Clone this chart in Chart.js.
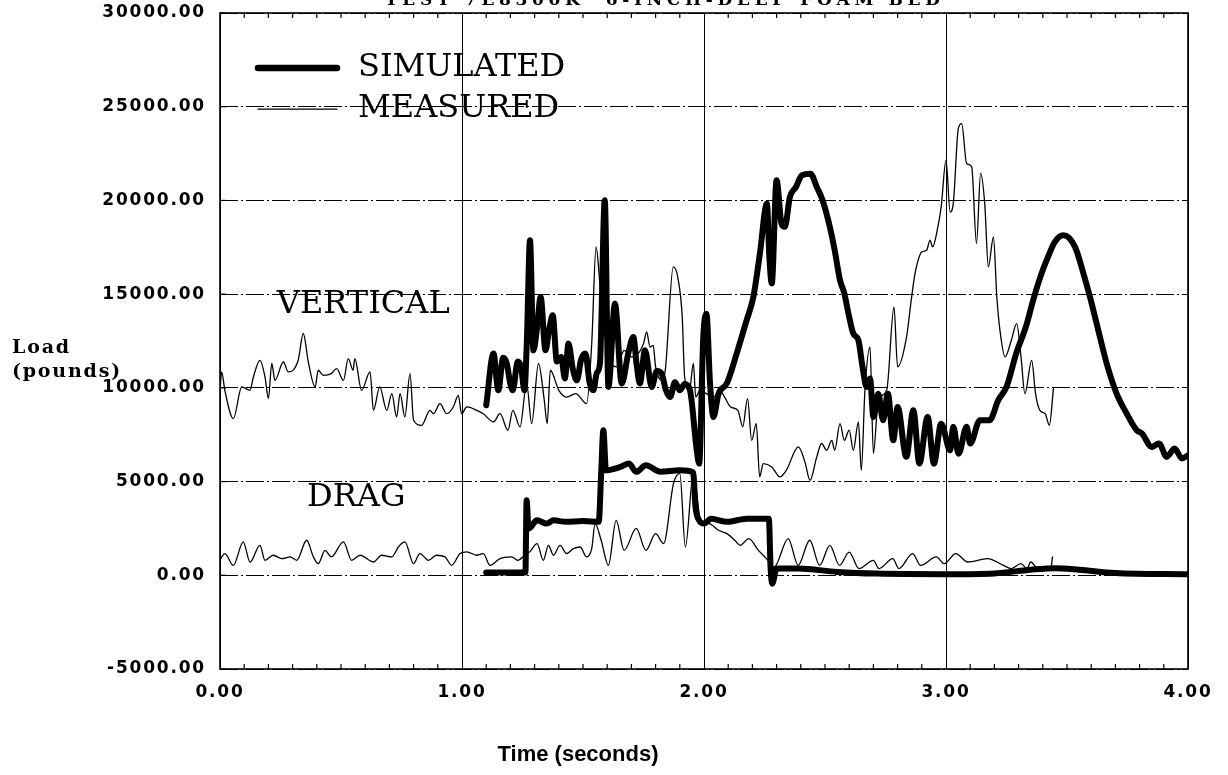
<!DOCTYPE html>
<html>
<head>
<meta charset="utf-8">
<script src="https://cdn.jsdelivr.net/npm/chart.js@4.4.1/dist/chart.umd.min.js"></script>
<style>
  html, body { margin: 0; padding: 0; background: #fff; }
  canvas { display: block; }
</style>
</head>
<body>
<canvas id="c" width="1228" height="775"></canvas>
<script>
// ---- Load histories (time in seconds, load in pounds) ----
const measVertTime = [0.000,0.007,0.020,0.055,0.090,0.124,0.138,0.165,0.186,0.200,0.214,0.227,0.262,0.282,0.323,0.344,0.365,0.393,0.406,0.427,0.460,0.482,0.510,0.530,0.550,0.557,0.585,0.620,0.634,0.660,0.689,0.710,0.730,0.744,0.764,0.785,0.800,0.833,0.868,0.882,0.909,0.937,0.964,0.985,0.998,1.020,1.061,1.088,1.130,1.157,1.190,1.210,1.240,1.267,1.288,1.316,1.340,1.352,1.365,1.400,1.432,1.470,1.515,1.536,1.554,1.570,1.600,1.640,1.670,1.700,1.728,1.750,1.763,1.777,1.790,1.800,1.825,1.840,1.873,1.894,1.910,1.920,1.940,1.956,1.966,1.983,2.010,2.040,2.066,2.085,2.110,2.140,2.160,2.180,2.197,2.216,2.230,2.245,2.280,2.314,2.340,2.390,2.417,2.438,2.466,2.486,2.507,2.528,2.540,2.562,2.580,2.600,2.617,2.638,2.650,2.665,2.686,2.700,2.720,2.755,2.785,2.800,2.837,2.858,2.872,2.900,2.920,2.934,2.945,2.961,2.980,3.000,3.017,3.030,3.051,3.065,3.085,3.106,3.126,3.143,3.160,3.175,3.196,3.210,3.223,3.244,3.270,3.292,3.310,3.326,3.354,3.370,3.388,3.410,3.427,3.444];
const measVertLoad = [9900,10850,9870,8360,10050,9870,10580,11470,10580,9430,11300,10400,11380,10850,11470,12900,11380,10050,10940,10670,10760,11030,10400,11560,10940,11560,9870,10850,8800,10050,8800,9690,8450,9690,8450,10760,8270,8000,8800,8620,9160,8620,8980,9600,8620,8980,8800,8620,8180,8620,7740,8800,7920,10230,8090,11300,9340,8090,10940,9870,9510,9690,9160,12360,17520,15570,12000,11120,12000,11650,11830,12360,12980,12180,12270,11120,10400,10940,16450,15740,13790,10580,9870,11300,9510,9870,9690,9510,9870,9510,8980,8800,7920,9430,7200,8090,5250,5960,5780,5250,5600,6850,6050,5070,6320,7030,6670,7200,6670,8090,7200,7740,6670,8180,5600,9870,12180,6490,9340,9870,14320,11120,12720,14850,16100,17250,17340,17880,17520,18230,19650,22150,19380,19830,23840,24100,21970,21800,17700,21440,19830,16450,18050,14850,13070,11650,12540,13430,11650,9690,11470,9690,8800,8620,8000,9960];

const measDragTime = [0.000,0.007,0.020,0.055,0.096,0.124,0.165,0.186,0.220,0.255,0.290,0.317,0.358,0.386,0.406,0.434,0.460,0.510,0.544,0.579,0.634,0.668,0.710,0.737,0.764,0.800,0.826,0.861,0.895,0.930,0.957,0.992,1.020,1.060,1.088,1.116,1.157,1.205,1.230,1.260,1.280,1.310,1.336,1.357,1.378,1.405,1.432,1.460,1.488,1.515,1.536,1.550,1.575,1.605,1.637,1.670,1.720,1.760,1.800,1.833,1.874,1.900,1.923,1.956,1.989,2.020,2.060,2.095,2.127,2.150,2.185,2.225,2.258,2.290,2.348,2.389,2.437,2.478,2.520,2.560,2.600,2.640,2.700,2.723,2.780,2.805,2.862,2.895,2.960,2.993,3.040,3.090,3.172,3.237,3.270,3.310,3.335,3.350,3.385,3.433,3.440];
const measDragLoad = [800,980,1160,530,1780,710,1600,800,1070,890,980,800,1870,980,620,1330,980,1780,800,1070,710,1070,980,1510,1780,620,1160,800,1070,980,530,1160,1250,1070,1160,530,890,980,800,1070,1250,1690,800,1600,1070,1600,1160,1420,1510,980,1420,2760,1870,530,2930,1330,2500,1330,2220,1690,4900,5440,1510,5440,2760,2760,2400,2220,1870,1600,1960,1330,890,440,1960,530,1870,530,1600,530,1240,360,800,360,890,360,1160,530,980,620,1160,710,890,530,360,620,360,710,270,360,980];

const simVertTime = [1.100,1.130,1.150,1.170,1.185,1.200,1.210,1.230,1.244,1.258,1.268,1.281,1.295,1.310,1.325,1.345,1.360,1.375,1.392,1.410,1.425,1.440,1.458,1.475,1.492,1.510,1.527,1.543,1.557,1.570,1.590,1.605,1.632,1.660,1.687,1.708,1.722,1.735,1.756,1.784,1.805,1.825,1.842,1.860,1.880,1.900,1.920,1.942,1.970,1.980,1.997,2.010,2.025,2.039,2.060,2.094,2.135,2.176,2.204,2.231,2.260,2.270,2.280,2.300,2.320,2.334,2.355,2.380,2.404,2.440,2.466,2.490,2.520,2.540,2.562,2.580,2.597,2.617,2.638,2.655,2.672,2.686,2.700,2.720,2.740,2.760,2.782,2.800,2.836,2.865,2.890,2.924,2.950,2.980,3.017,3.030,3.052,3.085,3.100,3.140,3.180,3.216,3.250,3.290,3.330,3.360,3.390,3.416,3.450,3.485,3.533,3.568,3.595,3.636,3.664,3.705,3.747,3.788,3.810,3.850,3.880,3.912,3.945,3.975,4.000];
const simVertLoad = [9070,11830,9870,11600,11300,10200,9870,11400,11120,9870,12500,17880,12000,13200,14850,12000,13100,13870,11400,11650,10500,12360,11000,10400,11500,11830,10300,9870,10800,11300,20010,10050,14500,10230,11830,12720,11200,10230,12000,10050,10900,10760,9900,9510,10300,9870,10200,9870,6670,5960,12720,13960,10230,8450,9690,10230,11830,13600,14850,17170,19830,17000,15570,21080,18770,18590,20190,20720,21340,21430,20720,20010,18590,17340,15740,15030,13960,12900,12540,11120,10050,10500,8450,9690,8270,9690,7200,8980,6320,8800,5960,8450,5960,8090,6670,7920,6490,7920,7030,8270,8270,9340,10050,11830,13250,14670,15920,16810,17790,18140,17520,16100,14850,12720,11300,9690,8620,7740,7560,6850,7030,6320,6760,6230,6400];

const simDragTime = [1.100,1.200,1.262,1.267,1.275,1.310,1.350,1.378,1.430,1.500,1.565,1.575,1.584,1.595,1.655,1.690,1.720,1.760,1.820,1.900,1.955,1.965,1.980,2.000,2.030,2.095,2.176,2.268,2.275,2.282,2.300,2.389,2.550,2.715,3.000,3.200,3.350,3.450,3.550,3.700,4.000];
const simDragLoad = [150,150,150,4000,2490,2930,2760,2930,2850,2900,2850,5400,7740,5600,5780,5960,5520,5870,5520,5600,5500,3640,2930,2760,3020,2850,3020,3020,440,-450,360,360,180,90,60,100,300,380,300,120,50];

// ---- Axes and labels ----
const xTickValues = [0, 1, 2, 3, 4];
const yTickValues = [-5000, 0, 5000, 10000, 15000, 20000, 25000, 30000];
const legendLabels = ['SIMULATED', 'MEASURED'];
const curveLabels = ['VERTICAL', 'DRAG'];
const chartTitle = 'TEST 7E8300K  6-INCH-DEEP FOAM BED';
const xAxisTitle = 'Time (seconds)';
const yAxisTitle = ['Load', '(pounds)'];

const toPoints = (t, v) => t.map((x, i) => ({ x: x, y: v[i] }));

const INK = '#000';
const THICK = 6;
const THIN = 1.3;

// Tick labels are drawn letter-spaced; annotations reset spacing themselves.
const spacingPlugin = {
  id: 'spacing',
  beforeDraw(chart) { chart.ctx.letterSpacing = '1.8px'; },
  beforeDatasetsDraw(chart) { chart.ctx.letterSpacing = '0px'; }
};

function fitText(ctx, text, x, y, width) {
  ctx.letterSpacing = '0px';
  const w = ctx.measureText(text).width;
  const sp = Math.max(0, (width - w) / (text.length - 1));
  ctx.letterSpacing = sp + 'px';
  ctx.fillText(text, x, y);
  ctx.letterSpacing = '0px';
}

const annotationPlugin = {
  id: 'annotations',
  afterDraw(chart) {
    const ctx = chart.ctx;
    const a = chart.chartArea;
    const xs = chart.scales.x, ys = chart.scales.y;
    ctx.save();
    ctx.letterSpacing = '0px';
    ctx.strokeStyle = INK;
    ctx.fillStyle = INK;

    // plot frame
    ctx.lineWidth = 1.6;
    ctx.strokeRect(a.left, a.top, a.right - a.left, a.bottom - a.top);

    // minor ticks along top and bottom edges every 0.1 s
    ctx.lineWidth = 1.2;
    for (let k = 1; k < 40; k++) {
      if (k % 10 === 0) continue;
      const px = xs.getPixelForValue(k / 10);
      ctx.beginPath();
      ctx.moveTo(px, a.top); ctx.lineTo(px, a.top + 5);
      ctx.moveTo(px, a.bottom); ctx.lineTo(px, a.bottom - 5);
      ctx.stroke();
    }
    // small ticks on the left edge at each major value
    yTickValues.forEach(v => {
      const py = ys.getPixelForValue(v);
      ctx.beginPath();
      ctx.moveTo(a.left, py); ctx.lineTo(a.left + 6, py);
      ctx.stroke();
    });

    // legend
    const lx0 = a.left + 38, lx1 = a.left + 117;
    const ly0 = ys.getPixelForValue(27060), ly1 = ys.getPixelForValue(24870);
    ctx.lineCap = 'round';
    ctx.lineWidth = THICK + 0.5;
    ctx.beginPath(); ctx.moveTo(lx0, ly0); ctx.lineTo(lx1, ly0); ctx.stroke();
    ctx.lineWidth = THIN;
    ctx.beginPath(); ctx.moveTo(lx0, ly1); ctx.lineTo(lx1, ly1); ctx.stroke();
    ctx.font = '32px "DejaVu Serif"';
    ctx.textBaseline = 'middle';
    ctx.textAlign = 'left';
    ctx.fillText(legendLabels[0], a.left + 138, ly0);
    ctx.fillText(legendLabels[1], a.left + 138, ly1);

    // curve labels
    ctx.fillText(curveLabels[0], xs.getPixelForValue(0.235), ys.getPixelForValue(14450));
    ctx.fillText(curveLabels[1], xs.getPixelForValue(0.36), ys.getPixelForValue(4150));

    // y axis title
    ctx.font = 'bold 19px "DejaVu Serif"';
    ctx.letterSpacing = '1.8px';
    ctx.fillText(yAxisTitle[0], 12, 348);
    ctx.fillText(yAxisTitle[1], 12, 372);
    ctx.letterSpacing = '0px';

    // x axis title
    ctx.font = 'bold 22px "Liberation Sans Narrow", "Liberation Sans"';
    ctx.textAlign = 'center';
    ctx.fillText(xAxisTitle, 578, 755);

    // heading along the top edge
    ctx.font = 'bold 17px "DejaVu Serif"';
    ctx.textAlign = 'left';
    ctx.textBaseline = 'alphabetic';
    fitText(ctx, chartTitle, 385, 5, 555);

    ctx.restore();
  }
};

const tickFont = { family: '"DejaVu Sans", sans-serif', size: 17, weight: 'bold' };

// fixed axis boxes so the plot area sits exactly where wanted
const fixX = s => { s.height = 106; s.paddingLeft = 0; s.paddingRight = 0; s.paddingTop = 0; s.paddingBottom = 0; };
const fixY = s => { s.width = 220; s.paddingTop = 0; s.paddingBottom = 0; s.paddingLeft = 0; s.paddingRight = 0; };

new Chart(document.getElementById('c'), {
  type: 'line',
  data: {
    datasets: [
      { label: 'MEASURED VERTICAL', data: toPoints(measVertTime, measVertLoad), borderColor: INK, borderWidth: THIN },
      { label: 'MEASURED DRAG', data: toPoints(measDragTime, measDragLoad), borderColor: INK, borderWidth: THIN },
      { label: 'SIMULATED VERTICAL', data: toPoints(simVertTime, simVertLoad), borderColor: INK, borderWidth: THICK },
      { label: 'SIMULATED DRAG', data: toPoints(simDragTime, simDragLoad), borderColor: INK, borderWidth: THICK }
    ]
  },
  options: {
    responsive: false,
    animation: false,
    devicePixelRatio: 1,
    layout: { autoPadding: false, padding: { top: 13, right: 40, left: 0, bottom: 0 } },
    elements: {
      point: { radius: 0 },
      line: { cubicInterpolationMode: 'monotone', borderJoinStyle: 'round', borderCapStyle: 'round', fill: false }
    },
    plugins: { legend: { display: false }, tooltip: { enabled: false }, title: { display: false } },
    scales: {
      x: {
        type: 'linear',
        min: 0, max: 4,
        afterBuildTicks: s => { s.ticks = xTickValues.map(v => ({ value: v })); },
        afterFit: fixX,
        ticks: { color: INK, font: tickFont, padding: 13, callback: v => v.toFixed(2), maxRotation: 0 },
        grid: { color: INK, lineWidth: 1, drawTicks: false },
        border: { display: false }
      },
      y: {
        type: 'linear',
        min: -5000, max: 30000,
        afterBuildTicks: s => { s.ticks = yTickValues.map(v => ({ value: v })); },
        afterFit: fixY,
        ticks: { color: INK, font: tickFont, padding: 14, callback: v => v.toFixed(2) },
        grid: { color: INK, lineWidth: 1, drawTicks: false },
        border: { display: false, dash: [18, 3, 2, 3] }
      }
    }
  },
  plugins: [spacingPlugin, annotationPlugin]
});
</script>
</body>
</html>
